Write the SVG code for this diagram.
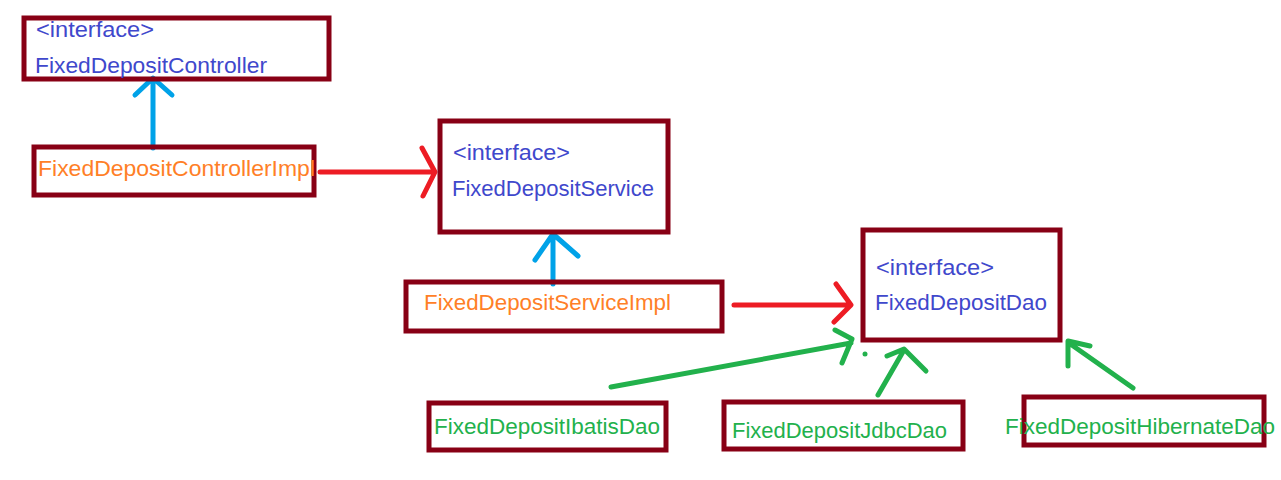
<svg xmlns="http://www.w3.org/2000/svg" width="1281" height="480" viewBox="0 0 1281 480">
<style>
.box{fill:none;stroke:#880015;stroke-width:5}
text{font-family:"Liberation Sans","Noto Sans",sans-serif;font-size:22px}
.b{fill:#3F48CC}.o{fill:#FF7F27}.g{fill:#22B14C}
.ln{fill:none;stroke-width:5;stroke-linecap:round;stroke-linejoin:round}
.bl{stroke:#00A2E8}.rd{stroke:#ED1C24}.gr{stroke:#22B14C}
</style>
<rect width="1281" height="480" fill="#fff"/>
<g id="connectors">
<path class="ln bl" d="M153,148 V80 M135,95 L153,78 L172,95"/>
<path class="ln rd" d="M320,172 H432 M422,148 L435,172 L423,196"/>
<path class="ln bl" d="M553,284 V235 M535,260 L553,234 L578,256"/>
<path class="ln rd" d="M734,305 H850 M836,284 L851,305 L834,322"/>
<path class="ln gr" d="M611,387 L851,343 M835,330 L852,339 L842,363"/>
<circle cx="865" cy="354" r="2.5" fill="#22B14C"/>
<path class="ln gr" d="M878,395 L904,350 M887,356 L904,349 L926,371"/>
<path class="ln gr" d="M1133,388 L1069,343 M1090,346 L1068,341 L1068,366"/>
</g>
<g id="FixedDepositController">
<rect class="box" x="24" y="18" width="305" height="61"/>
<text class="b" x="36" y="37" textLength="118" lengthAdjust="spacingAndGlyphs">&lt;interface&gt;</text>
<text class="b" x="35" y="73" textLength="232" lengthAdjust="spacingAndGlyphs">FixedDepositController</text>
</g>
<g id="FixedDepositControllerImpl">
<rect class="box" x="34" y="147" width="280" height="48"/>
<text class="o" x="38" y="176" textLength="277" lengthAdjust="spacingAndGlyphs">FixedDepositControllerImpl</text>
</g>
<g id="FixedDepositService">
<rect class="box" x="440" y="121" width="228" height="111"/>
<text class="b" x="453" y="160" textLength="117" lengthAdjust="spacingAndGlyphs">&lt;interface&gt;</text>
<text class="b" x="452" y="196" textLength="202" lengthAdjust="spacingAndGlyphs">FixedDepositService</text>
</g>
<g id="FixedDepositServiceImpl">
<rect class="box" x="406" y="282" width="316" height="49"/>
<text class="o" x="424" y="310" textLength="247" lengthAdjust="spacingAndGlyphs">FixedDepositServiceImpl</text>
</g>
<g id="FixedDepositDao">
<rect class="box" x="863" y="230" width="197" height="110"/>
<text class="b" x="876" y="275" textLength="118" lengthAdjust="spacingAndGlyphs">&lt;interface&gt;</text>
<text class="b" x="875" y="310" textLength="172" lengthAdjust="spacingAndGlyphs">FixedDepositDao</text>
</g>
<g id="FixedDepositIbatisDao">
<rect class="box" x="429" y="403" width="237" height="47"/>
<text class="g" x="434" y="434" textLength="226" lengthAdjust="spacingAndGlyphs">FixedDepositIbatisDao</text>
</g>
<g id="FixedDepositJdbcDao">
<rect class="box" x="724" y="402" width="239" height="47"/>
<text class="g" x="732" y="438" textLength="215" lengthAdjust="spacingAndGlyphs">FixedDepositJdbcDao</text>
</g>
<g id="FixedDepositHibernateDao">
<rect class="box" x="1024" y="397" width="240" height="48"/>
<text class="g" x="1005" y="434" textLength="270" lengthAdjust="spacingAndGlyphs">FixedDepositHibernateDao</text>
</g>
</svg>
